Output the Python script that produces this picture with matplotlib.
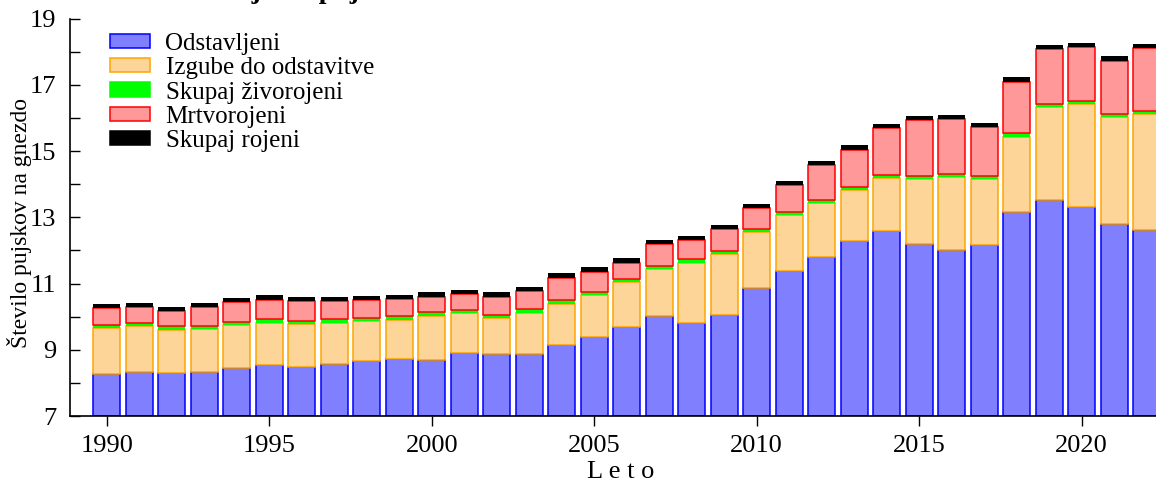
import matplotlib
matplotlib.use("Agg")
import matplotlib.pyplot as plt
from matplotlib.patches import Patch
import numpy as np

plt.rcParams['font.family'] = ['Liberation Serif', 'DejaVu Serif']

# data
years = list(range(1990, 2023))
odstavljeni = [8.26, 8.32, 8.29, 8.32, 8.45, 8.53, 8.47, 8.58, 8.65, 8.73,
               8.69, 8.89, 8.88, 8.86, 9.13, 9.39, 9.70, 10.03, 9.80, 10.06,
               10.87, 11.39, 11.81, 12.29, 12.58, 12.19, 12.00, 12.17, 13.15, 13.52,
               13.32, 12.81, 12.62]
zivorojeni = [9.75, 9.82, 9.71, 9.72, 9.85, 9.92, 9.88, 9.92, 9.96, 10.01,
              10.13, 10.20, 10.06, 10.22, 10.49, 10.75, 11.14, 11.54, 11.73, 11.99,
              12.65, 13.16, 13.52, 13.91, 14.29, 14.26, 14.32, 14.25, 15.53, 16.42,
              16.51, 16.12, 16.22]
rojeni = [10.38, 10.41, 10.29, 10.41, 10.56, 10.64, 10.59, 10.59, 10.62, 10.66,
          10.73, 10.81, 10.73, 10.90, 11.31, 11.49, 11.76, 12.32, 12.43, 12.78,
          13.40, 14.10, 14.71, 15.17, 15.83, 16.06, 16.09, 15.85, 17.22, 18.21,
          18.27, 17.86, 18.23]
labels = ["Odstavljeni", "Izgube do odstavitve", "Skupaj živorojeni",
          "Mrtvorojeni", "Skupaj rojeni"]

x = np.array(years)
weaned = np.array(odstavljeni)
live = np.array(zivorojeni)
total = np.array(rojeni)
base = 7.0
green_band = 0.10
black_band = 0.13
w = 0.84

fig = plt.figure(figsize=(11.56, 4.86), dpi=100)
ax = fig.add_axes([70 / 1156, 70 / 486, 1 - 70 / 1156, (416 - 18.5) / 486])

ax.bar(x, weaned - base, w, bottom=base, color='#8080ff', edgecolor='#0000ff', linewidth=1.1)
ax.bar(x, (live - green_band) - weaned, w, bottom=weaned, color='#fdd598',
       edgecolor='#ffa500', linewidth=1.1)
ax.bar(x, green_band, w, bottom=live - green_band, color='#00ff00', linewidth=0)
ax.bar(x, (total - black_band) - live, w, bottom=live, color='#ff9999',
       edgecolor='#ff0000', linewidth=1.1)
ax.bar(x, black_band, w, bottom=total - black_band, color='black', linewidth=0)

ax.set_xlim(1988.87, 1990 + (1156 - 106.7) / 32.5)
ax.set_ylim(7, 19)
ax.set_yticks(np.arange(7, 20, 2))
ax.set_yticks(np.arange(8, 19, 2), minor=True)
ax.set_xticks(np.arange(1990, 2021, 5))

for s in ['top', 'right']:
    ax.spines[s].set_visible(False)
ax.spines['left'].set_linewidth(1.2)
ax.spines['bottom'].set_linewidth(1.2)
ax.tick_params(axis='y', which='both', direction='in', length=7, width=1, labelsize=19, pad=10)
ax.tick_params(axis='x', direction='out', length=7, width=1, labelsize=19, pad=7)

ax.set_ylabel("Število pujskov na gnezdo", fontsize=17)
ax.yaxis.set_label_coords(-0.035, 0.485)
ax.set_xlabel("L e t o", fontsize=19)
ax.xaxis.set_label_coords(0.507, -0.112)

handles = [
    Patch(facecolor='#8080ff', edgecolor='#0000ff', linewidth=1.1),
    Patch(facecolor='#fdd598', edgecolor='#ffa500', linewidth=1.1),
    Patch(facecolor='#00ff00', edgecolor='#00ff00', linewidth=1.1),
    Patch(facecolor='#ff9999', edgecolor='#ff0000', linewidth=1.1),
    Patch(facecolor='black', edgecolor='black', linewidth=1.1),
]
fig.legend(handles, labels, loc='upper left', bbox_to_anchor=(110 / 1156, 1 - 33 / 486),
           frameon=False, fontsize=18, handlelength=1.6, handleheight=0.5,
           handletextpad=0.62, labelspacing=0.09, borderaxespad=0, borderpad=0)

fig.text(100 / 1156, 1 + 1.5 / 486, "Struktura rojenih pujskov", fontsize=20,
         fontweight='bold', ha='left', va='baseline')

fig.savefig("out.png", dpi=100)
